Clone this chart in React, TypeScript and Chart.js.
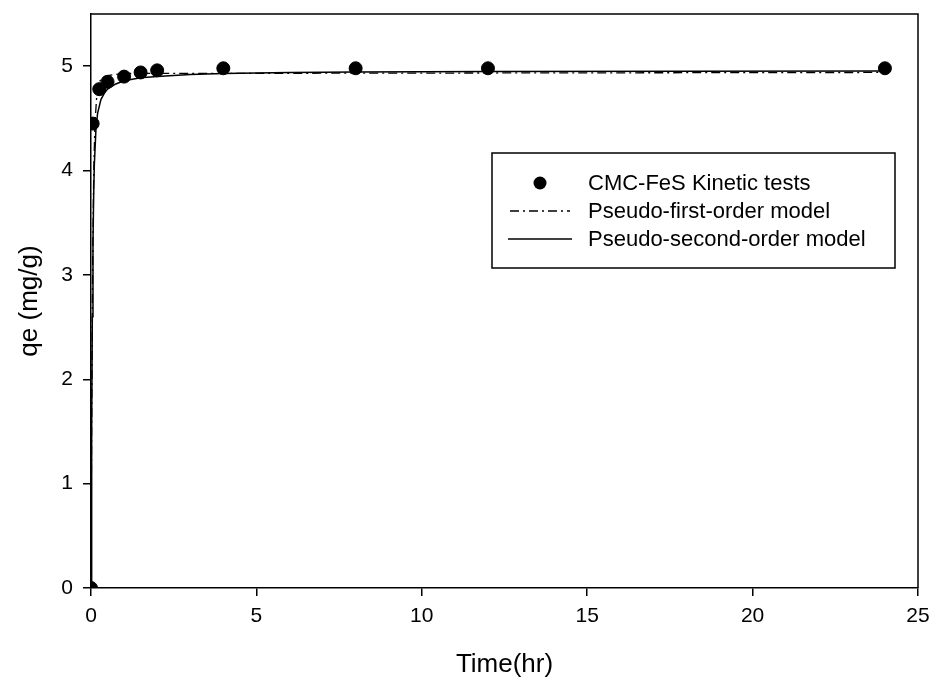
import React, { useEffect, useRef } from "react";
import { Chart, registerables } from "chart.js";

Chart.register(...registerables);

// Experimental data: time (hr) and qe (mg/g)
const expTime = [0, 0.05, 0.25, 0.5, 1, 1.5, 2, 4, 8, 12, 24];
const expQe = [0, 4.45, 4.78, 4.85, 4.9, 4.94, 4.96, 4.98, 4.98, 4.98, 4.98];

// Pseudo-first-order model curve
const pfoTime = [0, 0.02, 0.05, 0.083, 0.12, 0.17, 0.25, 0.35, 0.5, 1, 24];
const pfoQe = [0, 1.6, 3.1, 4.0, 4.45, 4.7, 4.85, 4.89, 4.91, 4.93, 4.94];

// Pseudo-second-order model curve
const psoTime = [0, 0.02, 0.04, 0.06, 0.08, 0.1, 0.15, 0.2, 0.3, 0.4, 0.5, 0.75, 1, 1.5, 2, 3, 4, 6, 8, 12, 24];
const psoQe = [0, 1.5, 2.6, 3.3, 3.75, 4.05, 4.4, 4.55, 4.68, 4.74, 4.78, 4.83, 4.86, 4.89, 4.9, 4.92, 4.93, 4.94, 4.945, 4.95, 4.955];

const xTicks = [0, 5, 10, 15, 20, 25];
const yTicks = [0, 1, 2, 3, 4, 5];

const legendLabels = [
  "CMC-FeS Kinetic tests",
  "Pseudo-first-order model",
  "Pseudo-second-order model",
];

const FONT = "'Liberation Sans', Arial, sans-serif";

const frameAndLegend = {
  id: "frameAndLegend",
  afterDraw(chart: any) {
    const { ctx, chartArea } = chart;
    ctx.save();
    ctx.strokeStyle = "#000";
    ctx.lineWidth = 1.5;
    ctx.beginPath();
    ctx.moveTo(chartArea.left, chartArea.top);
    ctx.lineTo(chartArea.right, chartArea.top);
    ctx.lineTo(chartArea.right, chartArea.bottom);
    ctx.stroke();

    // legend box
    const bx = 492, by = 153, bw = 403, bh = 115;
    ctx.lineWidth = 1.5;
    ctx.strokeRect(bx, by, bw, bh);
    ctx.font = `22px ${FONT}`;
    ctx.fillStyle = "#000";
    ctx.textBaseline = "middle";
    ctx.textAlign = "left";
    const rows = [183, 211, 239];
    const tx = 588;
    // marker
    ctx.beginPath();
    ctx.arc(540, rows[0], 6.5, 0, Math.PI * 2);
    ctx.fill();
    // dashed
    ctx.lineWidth = 1.3;
    ctx.setLineDash([9, 4, 2, 4]);
    ctx.beginPath();
    ctx.moveTo(510, rows[1]);
    ctx.lineTo(570, rows[1]);
    ctx.stroke();
    ctx.setLineDash([]);
    ctx.beginPath();
    ctx.moveTo(508, rows[2]);
    ctx.lineTo(572, rows[2]);
    ctx.stroke();
    legendLabels.forEach((l, i) => ctx.fillText(l, tx, rows[i] + 1));
    ctx.restore();
  },
};

export default function App() {
  const ref = useRef<HTMLCanvasElement>(null);
  useEffect(() => {
    const prevMargin = document.body.style.margin;
    document.body.style.margin = "0";
    const chart = new Chart(ref.current!, {
      type: "scatter",
      data: {
        datasets: [
          {
            label: legendLabels[2],
            data: psoTime.map((t, i) => ({ x: t, y: psoQe[i] })),
            showLine: true,
            borderColor: "#000",
            borderWidth: 1.5,
            pointRadius: 0,
            tension: 0,
            order: 3,
          },
          {
            label: legendLabels[1],
            data: pfoTime.map((t, i) => ({ x: t, y: pfoQe[i] })),
            showLine: true,
            borderColor: "#000",
            borderWidth: 1.3,
            borderDash: [9, 4, 2, 4],
            pointRadius: 0,
            tension: 0,
            order: 2,
          },
          {
            label: legendLabels[0],
            data: expTime.map((t, i) => ({ x: t, y: expQe[i] })),
            backgroundColor: "#000",
            borderColor: "#000",
            pointRadius: 6.5,
            pointStyle: "circle",
            order: 1,
          },
        ],
      },
      options: {
        animation: false,
        responsive: false,
        layout: { padding: { left: 0, top: 14, right: 17, bottom: 0 } },
        plugins: { legend: { display: false }, tooltip: { enabled: false } },
        scales: {
          x: {
            type: "linear",
            min: 0,
            max: 25,
            afterBuildTicks: (s: any) => {
              s.ticks = xTicks.map((v) => ({ value: v }));
            },
            afterFit: (s: any) => {
              s.height = 95;
              s.paddingLeft = 0;
              s.paddingRight = 0;
            },
            grid: { drawOnChartArea: false, drawTicks: true, tickLength: 8, color: "#000", lineWidth: 1.5 },
            border: { display: true, color: "#000", width: 1.5 },
            ticks: { color: "#000", font: { family: FONT, size: 21 }, padding: 8, maxRotation: 0 },
            title: {
              display: true,
              text: "Time(hr)",
              color: "#000",
              font: { family: FONT, size: 26 },
              padding: { top: 0, bottom: 3 },
            },
          },
          y: {
            type: "linear",
            min: 0,
            max: 5.5,
            afterBuildTicks: (s: any) => {
              s.ticks = yTicks.map((v) => ({ value: v }));
            },
            afterFit: (s: any) => {
              s.width = 91;
              s.paddingTop = 0;
              s.paddingBottom = 0;
            },
            grid: { drawOnChartArea: false, drawTicks: true, tickLength: 8, color: "#000", lineWidth: 1.5 },
            border: { display: true, color: "#000", width: 1.5 },
            ticks: { color: "#000", font: { family: FONT, size: 21 }, padding: 10 },
            title: {
              display: true,
              text: "qe (mg/g)",
              color: "#000",
              font: { family: FONT, size: 26 },
              padding: { top: 14, bottom: 0 },
            },
          },
        },
      },
      plugins: [frameAndLegend],
    });
    return () => {
      chart.destroy();
      document.body.style.margin = prevMargin;
    };
  }, []);
  return (
    <div style={{ width: 935, height: 683, background: "#fff" }}>
      <canvas ref={ref} width={935} height={683} style={{ display: "block" }} />
    </div>
  );
}
